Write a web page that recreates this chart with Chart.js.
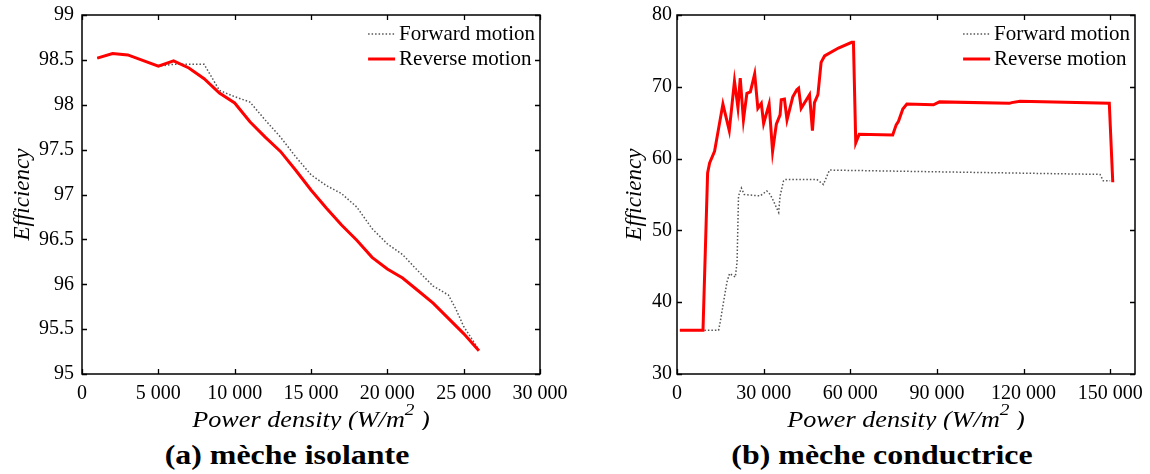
<!DOCTYPE html>
<html>
<head>
<meta charset="utf-8">
<script src="https://cdn.jsdelivr.net/npm/chart.js@4.4.0/dist/chart.umd.min.js"></script>
<style>
  body { margin: 0; background: #fff; }
  #wrap { position: relative; width: 1150px; height: 474px; overflow: hidden; }
  canvas { position: absolute; top: 0; }
  .cap { position: absolute; top: 437px; width: 400px; text-align: center;
         font: bold 28px "Liberation Serif", serif; line-height: 36px; color: #000;
         transform: scaleX(1.14); transform-origin: 50% 50%; }
</style>
</head>
<body>
<div id="wrap">
  <canvas id="isolante" width="575" height="430" style="left:0"></canvas>
  <canvas id="conductrice" width="575" height="430" style="left:575px"></canvas>
  <div class="cap" style="left:87px">(a) mèche isolante</div>
  <div class="cap" style="left:682px">(b) mèche conductrice</div>
</div>
<script>
// (a) mèche isolante
const isoTicksX = [0, 5000, 10000, 15000, 20000, 25000, 30000];
const isoTicksY = [95, 95.5, 96, 96.5, 97, 97.5, 98, 98.5, 99];
const isoFwdX = [1000, 2000, 3000, 5000, 6000, 7000, 8000, 9000, 10000, 11000, 12000, 13000, 14000,
  15000, 16000, 17000, 18000, 19000, 20000, 21000, 22000, 23000, 24000, 24500, 25000, 26000];
const isoFwdY = [98.52, 98.57, 98.555, 98.43, 98.45, 98.45, 98.45, 98.16, 98.09, 98.03, 97.83, 97.64, 97.42,
  97.22, 97.10, 97.01, 96.86, 96.62, 96.45, 96.33, 96.15, 95.98, 95.88, 95.72, 95.53, 95.27];
const isoRevX = [1000, 2000, 3000, 5000, 6000, 7000, 8000, 9000, 10000, 11000, 12000, 13000, 14000,
  15000, 16000, 17000, 18000, 19000, 20000, 21000, 22000, 23000, 24000, 25000, 26000];
const isoRevY = [98.52, 98.57, 98.555, 98.43, 98.49, 98.41, 98.29, 98.13, 98.02, 97.81, 97.64, 97.48, 97.27,
  97.05, 96.85, 96.66, 96.49, 96.30, 96.17, 96.07, 95.93, 95.79, 95.62, 95.45, 95.26];

// (b) mèche conductrice
const condTicksX = [0, 30000, 60000, 90000, 120000, 150000];
const condTicksY = [30, 40, 50, 60, 70, 80];
const condFwdX = [1000, 14400, 15000, 16100, 17300, 18200, 20200, 20800, 21300, 22300, 23300, 28800, 31100,
  32300, 33400, 35200, 35700, 36900, 37500, 48400, 50700, 52800, 146500, 147600, 150000];
const condFwdY = [36.1, 36.1, 37.3, 40.0, 42.8, 44.0, 43.5, 45.6, 54.8, 55.9, 55.0, 54.8, 55.5,
  55.0, 54.1, 52.5, 54.8, 56.9, 57.1, 57.1, 56.4, 58.4, 57.8, 56.9, 56.9];
const condRevX = [1000, 9000, 10600, 11300, 13000, 15900, 18100, 19900, 21100, 21900, 23000, 24200, 25400,
  26900, 28000, 29200, 30000, 31900, 33100, 34400, 35700, 36100, 37200, 38100, 40100, 41500, 42100, 43000,
  45900, 46900, 47600, 48800, 49900, 51100, 55900, 60500, 61100, 61900, 63100, 74700, 75900, 76700, 78200,
  79600, 88800, 90900, 115100, 115900, 118800, 149700, 150900];
const condRevY = [36.1, 36.1, 58.0, 59.4, 61.0, 67.6, 63.9, 70.8, 67.1, 71.2, 65.4, 69.1, 69.3,
  71.8, 67.0, 67.7, 64.9, 67.6, 61.0, 64.8, 66.1, 68.2, 68.3, 65.4, 68.6, 69.6, 69.8, 67.0,
  68.9, 63.9, 67.8, 68.9, 73.4, 74.3, 75.4, 76.2, 76.2, 62.2, 63.4, 63.3, 64.7, 65.2, 66.9,
  67.6, 67.5, 67.9, 67.7, 67.8, 68.0, 67.7, 56.7];

const seriesNames = ['Forward motion', 'Reverse motion'];
const xTitle = 'Power density (W/m';

const serif = '"Liberation Serif"';

function pts(xs, ys) {
  return xs.map((x, i) => ({ x: x, y: ys[i] }));
}

function thousands(v) {
  return String(v).replace(/\B(?=(\d{3})+(?!\d))/g, ' ');
}

// box + inward ticks on all four sides, matlab style
const frameTicks = {
  id: 'frameTicks',
  afterDatasetsDraw(chart) {
    const { ctx, chartArea: a, scales } = chart;
    ctx.save();
    ctx.strokeStyle = '#000';
    ctx.lineWidth = 1.3;
    ctx.beginPath();
    scales.x.ticks.forEach(t => {
      const px = Math.round(scales.x.getPixelForValue(t.value)) + 0.5;
      ctx.moveTo(px, a.bottom); ctx.lineTo(px, a.bottom - 5);
      ctx.moveTo(px, a.top); ctx.lineTo(px, a.top + 5);
    });
    scales.y.ticks.forEach(t => {
      const py = Math.round(scales.y.getPixelForValue(t.value)) + 0.5;
      ctx.moveTo(a.left, py); ctx.lineTo(a.left + 5, py);
      ctx.moveTo(a.right, py); ctx.lineTo(a.right - 5, py);
    });
    ctx.stroke();
    ctx.lineWidth = 1.5;
    ctx.strokeRect(a.left, a.top, a.right - a.left, a.bottom - a.top);
    ctx.restore();
  }
};

// legend in the top right corner of the plot
const boxLegend = {
  id: 'boxLegend',
  afterDraw(chart) {
    const { ctx, chartArea: a } = chart;
    const sets = chart.data.datasets;
    ctx.save();
    ctx.font = '21px ' + serif;
    ctx.textBaseline = 'middle';
    ctx.fillStyle = '#000';
    const w = Math.max(...sets.map(d => ctx.measureText(d.label).width));
    const tx = a.right - 5 - w;
    sets.forEach((d, i) => {
      const ly = a.top + 19 + i * 25;
      ctx.strokeStyle = d.borderColor;
      ctx.lineWidth = d.borderWidth;
      ctx.setLineDash(d.borderDash || []);
      ctx.beginPath();
      ctx.moveTo(tx - 31, ly); ctx.lineTo(tx - 4, ly);
      ctx.stroke();
      ctx.fillText(d.label, tx, ly);
    });
    ctx.restore();
  }
};

// x axis title with a superscript 2 (a little wider, like the original)
const xLabel = {
  id: 'xLabel',
  afterDraw(chart) {
    const { ctx, chartArea: a } = chart;
    const big = 'italic 23px ' + serif;
    const small = 'italic 17px ' + serif;
    ctx.save();
    ctx.fillStyle = '#000';
    ctx.textBaseline = 'alphabetic';
    ctx.font = big;
    const w1 = ctx.measureText(xTitle).width;
    const w3 = ctx.measureText(' )').width;
    ctx.font = small;
    const w2 = ctx.measureText('2').width;
    ctx.translate((a.left + a.right) / 2, a.bottom + 53);
    ctx.scale(1.14, 1);
    let x = -(w1 + w2 + w3) / 2;
    ctx.font = big;
    ctx.fillText(xTitle, x, 0);
    x += w1;
    ctx.font = small;
    ctx.fillText('2', x, -12);
    x += w2;
    ctx.font = big;
    ctx.fillText(' )', x, 0);
    ctx.restore();
  }
};

function makeChart(id, fwd, rev, xOpt, yOpt, yAxisWidth, padRight, titlePad, labelPad) {
  return new Chart(document.getElementById(id), {
    type: 'line',
    data: {
      datasets: [
        { label: seriesNames[0], data: fwd, borderColor: '#555', borderWidth: 1.5,
          borderDash: [1.5, 2], pointRadius: 0, tension: 0, order: 2 },
        { label: seriesNames[1], data: rev, borderColor: '#ff0000', borderWidth: 3,
          pointRadius: 0, tension: 0, order: 1 }
      ]
    },
    options: {
      responsive: false,
      animation: false,
      layout: { padding: { top: 15, right: padRight, left: 0, bottom: 0 }, autoPadding: false },
      plugins: { legend: { display: false }, tooltip: { enabled: false } },
      scales: {
        x: {
          type: 'linear', min: xOpt.min, max: xOpt.max,
          grid: { display: false, drawTicks: false },
          border: { display: false },
          ticks: { padding: 8, color: '#000', font: { family: serif, size: 20 },
                   maxRotation: 0, autoSkip: false, callback: v => thousands(v) },
          afterBuildTicks: s => { s.ticks = xOpt.ticks.map(v => ({ value: v })); },
          afterFit: s => { s.height = 56; s.paddingLeft = 0; s.paddingRight = 0; }
        },
        y: {
          min: yOpt.min, max: yOpt.max,
          grid: { display: false, drawTicks: false },
          border: { display: false },
          ticks: { padding: labelPad, color: '#000', font: { family: serif, size: 20 },
                   callback: v => String(v) },
          afterBuildTicks: s => { s.ticks = yOpt.ticks.map(v => ({ value: v })); },
          title: { display: true, text: 'Efficiency', color: '#000',
                   font: { family: serif, size: 23, style: 'italic' }, padding: { top: titlePad, bottom: 0 } },
          afterFit: s => { s.width = yAxisWidth; s.paddingTop = 0; s.paddingBottom = 0; }
        }
      }
    },
    plugins: [frameTicks, boxLegend, xLabel]
  });
}

makeChart('isolante', pts(isoFwdX, isoFwdY), pts(isoRevX, isoRevY),
  { min: 0, max: 30000, ticks: isoTicksX }, { min: 95, max: 99, ticks: isoTicksY }, 82, 35, 9, 8);
makeChart('conductrice', pts(condFwdX, condFwdY), pts(condRevX, condRevY),
  { min: 0, max: 158600, ticks: condTicksX }, { min: 30, max: 80, ticks: condTicksY }, 102, 15, 46, 5);
</script>
</body>
</html>
